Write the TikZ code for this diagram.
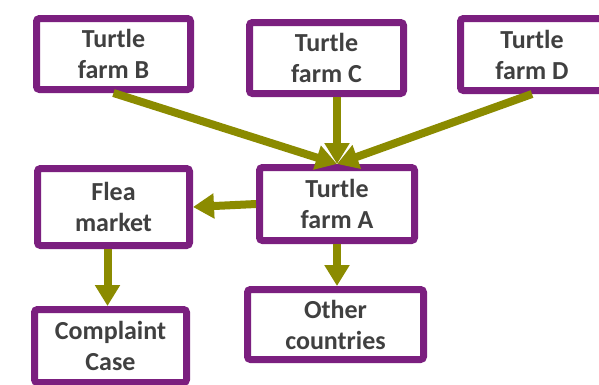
\documentclass[tikz,border=0pt]{standalone}
\usepackage{fontspec}
\setmainfont{Carlito}
\usetikzlibrary{arrows.meta}
\definecolor{farmpurple}{HTML}{7B1F7F}
\definecolor{flowolive}{HTML}{8B8B00}
\definecolor{labelgray}{HTML}{404040}

\begin{document}
\begin{tikzpicture}[x=1pt, y=-1pt,
    >={Triangle[width=24pt, length=21pt]},
    farm/.style={draw=farmpurple, line width=7pt, fill=white,
                 rounded corners=3pt, align=center, inner sep=0pt,
                 text=labelgray, font=\bfseries\fontsize{26}{31}\selectfont},
    flow/.style={->, draw=flowolive, fill=flowolive, line width=8pt}]
  \useasboundingbox (0,0) rectangle (599,384);

  % ---- the farms the turtles come from
  \node[farm, minimum width=154pt, minimum height=71pt] (B) at (113.5,54) {Turtle\\farm B};
  \node[farm, minimum width=154pt, minimum height=71pt] (C) at (326.5,58) {Turtle\\farm C};
  \node[farm, minimum width=143pt, minimum height=72pt] (D) at (532,54.5) {Turtle\\farm D};

  % ---- where they all meet, and where they go from there
  \node[farm, minimum width=155pt, minimum height=73pt] (A) at (337,204) {Turtle\\farm A};
  \node[farm, minimum width=152pt, minimum height=77pt] (flea) at (113.5,207) {Flea\\market};
  \node[farm, minimum width=152pt, minimum height=73pt] (complaint) at (110.5,346) {Complaint\\Case};
  \node[farm, minimum width=176pt, minimum height=70pt] (other) at (335.5,324.5) {Other\\countries};
  \coordinate (fleafoot) at ([xshift=-6pt]flea.south);

  % ---- the flows
  \draw[flow] (B.south) -- (A.north);
  \draw[flow] (C.south -| A.north) -- (A.north);
  \draw[flow] (D.south) -- (A.north);
  \draw[flow] (A.west) -- (flea.east);
  \draw[flow] (fleafoot) -- (fleafoot |- complaint.north);
  \draw[flow] (A.south) -- (A.south |- other.north);
\end{tikzpicture}
\end{document}
